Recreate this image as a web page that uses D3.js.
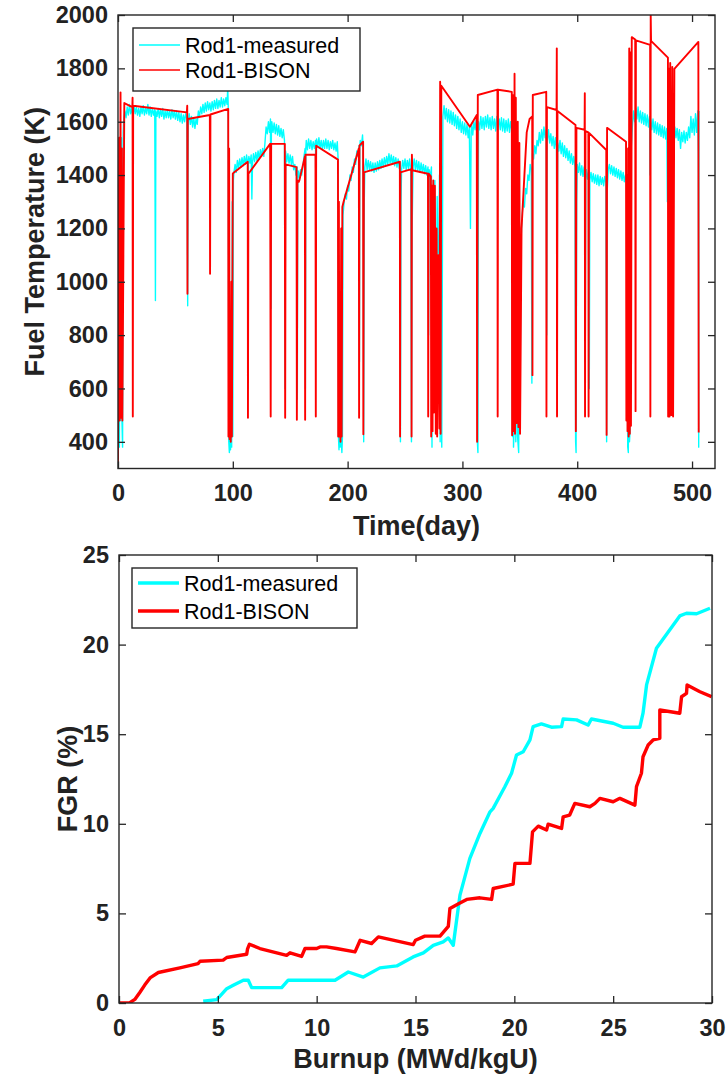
<!DOCTYPE html>
<html>
<head>
<meta charset="utf-8">
<script src="https://cdn.jsdelivr.net/npm/d3@7"></script>
<style>
  html, body { margin: 0; padding: 0; background: #fff; }
  svg { display: block; }
</style>
</head>
<body>
<svg id="chart" width="728" height="1075"></svg>
<script>
// ---------------- DATA ----------------
// Top panel: fuel temperature (K) vs time (day)
const tempSeriesNames = ["Rod1-measured", "Rod1-BISON"];
const tempXTicks = [0, 100, 200, 300, 400, 500];
const tempYTicks = [400, 600, 800, 1000, 1200, 1400, 1600, 1800, 2000];

const rod1MeasuredTemp = [
[0,750],[0.4,480],[0.8,600],[1.2,380],[1.6,1000],[2,480],[2.5,1400],[3,1540],[3.5,470],[4,380],[4.5,1560],[5,1610],[6,1640],
[7,1615],[8,1655],[9,1625],[10,1665],[11,1630],[12,1650],[13,1620],[14,1660],[15,1630],[16,1655],[17,1625],[18,1650],[19,1620],[20,1655],[21,1630],[22,1660],[23,1625],[24,1650],[25,1630],[26,1665],[27,1625],[28,1655],[29,1620],[30,1650],[31,1625],[32,1645],[32.6,930],[33,1640],[34,1620],[35,1650],[36,1615],[37,1645],[38,1620],[39,1650],[40,1610],[41,1640],[42,1615],[43,1645],[44,1615],[45,1640],[46,1610],[47,1645],[48,1615],[49,1640],[50,1610],[51,1640],[52,1605],[53,1635],[54,1600],[55,1630],[56,1595],[57,1625],[58,1600],[59,1630],[60,1610],[60.7,910],[61.2,1600],[62,1630],[63,1590],[64,1620],[65,1580],[66,1615],[67,1575],[68,1610],[69,1590],[70,1640],[71,1620],[72,1655],[73,1630],[74,1665],[75,1635],[76,1670],[77,1640],[78,1675],[79,1645],[80,1670],[81,1640],[82,1675],[83,1645],[84,1680],[85,1650],[86,1685],[87,1650],[88,1680],[89,1655],[90,1690],[91,1655],[92,1685],[93,1660],[94,1690],[95,1665],[95.6,1730],[96,1660],
[96.5,400],[97,360],[97.5,430],[98,370],[98.5,450],[99,380],[99.5,1300],[100,420],[100.5,1380],[101,1410],
[102,1440],[103,1410],[104,1455],[105,1425],[106,1460],[107,1430],[108,1465],[109,1435],[110,1470],[111,1440],[112,1475],[113,1440],[113.3,600],[113.6,1450],[114,1470],[115,1445],[116,1475],[116.6,1310],[117.2,1450],[118,1480],[119,1450],[120,1485],[121,1455],[122,1490],[123,1460],[124,1495],[125,1470],[126,1500],[127,1470],[128,1520],[129,1580],[130,1555],[131,1600],[132,1560],[132.8,1610],[133.2,900],[133.6,1570],[134,1600],[135,1560],[136,1595],[137,1555],[138,1590],[139,1550],[140,1585],[141,1545],[142,1575],[143,1540],[144,1570],[145,1530],[145.5,600],[146,1490],[147,1450],[148,1480],[149,1445],[150,1475],[151,1440],[152,1470],[153,1420],[154,1440],[155,1400],[156,1430],[156.2,560],[156.6,1380],[157,1415],[158,1390],[159,1420],[160,1400],[161,1430],[162,1470],[163,1500],[163.2,600],[163.6,1500],[164,1530],[165,1495],[166,1535],[167,1500],[168,1530],[169,1495],[170,1525],[171,1500],[172,1530],[172.4,1300],[172.8,1500],[173,1535],[174,1505],[175,1540],[176,1500],[177,1530],[178,1495],[179,1530],[180,1500],[181,1535],[182,1500],[183,1530],[184,1495],[185,1525],[186,1500],[187,1530],[188,1495],[189,1520],[190,1490],[191,1525],[191.6,1470],
[192,420],[192.5,370],[193,600],[193.5,380],[194,450],[195,360],[195.5,420],[196,1250],[197,1300],[198,1330],[199,1310],[200,1360],[201,1340],[202,1400],[203,1380],[204,1430],[205,1410],[206,1460],[207,1440],[208,1490],[209,1470],[210,1510],[210.3,700],[210.6,1500],[211,1530],[212,1510],[213,1550],[213.5,1500],[214,400],[214.5,1300],[215,1430],[216,1460],[217,1420],[218,1455],[219,1420],[220,1450],[221,1415],[222,1445],[223,1410],[224,1445],[225,1415],[226,1450],[227,1420],[228,1455],[229,1425],[230,1460],[231,1430],[232,1465],[233,1435],[234,1470],[235,1440],[236,1480],[237,1445],[238,1475],[239,1440],[240,1470],[241,1435],[242,1465],[243,1430],[244,1460],[245,1425],[245.6,1450],[246,400],[246.5,1300],[247,1420],[248,1455],[249,1425],[250,1460],[251,1420],[252,1455],[253,1425],[254,1460],[255,1420],[255.6,400],[256.2,1200],[257,1430],[258,1460],[259,1420],[260,1455],[261,1415],[262,1450],[263,1410],[264,1445],[265,1410],[266,1440],[267,1405],[268,1435],[269,1400],[270,1430],
[270.5,800],[271,1420],[272,1390],[273,1430],[273.5,380],[274,1360],[275,1000],[276,1380],[277,560],[278,1320],[279,880],[280,1400],[280.6,400],[281,1450],[282,380],[283,1620],[284,1660],[285,1610],[286,1650],[287,1600],[288,1645],[289,1595],[290,1640],[291,1590],[292,1635],[293,1585],[294,1625],[295,1575],[296,1620],[297,1570],[298,1610],[299,1560],[300,1600],[301,1555],[302,1595],[303,1550],[304,1590],[305,1540],[306,1580],[307,1200],[307.6,1560],[308,1590],[309,1550],[310,1600],[311,1570],[312,1610],[312.5,1580],[313,400],[313.5,360],[314,1600],[315,1570],[316,1620],[317,1575],[318,1615],[319,1570],[320,1620],[321,1580],[322,1625],[323,1575],[324,1615],[325,1570],[326,1620],[327,1575],[328,1610],[329,1565],[330,1620],[331,1580],[332,1610],[333,1570],[334,1615],[335,1565],[336,1610],[337,1560],[338,1605],[339,1565],[340,1610],[341,1560],[342,1600],[343,1570],
[343.5,420],[344,1550],[344.5,380],[345,450],[346,1500],[346.5,400],[347,1100],[348,420],[349,360],[349.5,800],[350,450],[351,1150],[352,1250],[353,1300],[354,1280],[355,1350],[356,1330],[357,1400],[358,1380],[359,1440],[360,1420],[360.5,620],[361,1480],[362,1460],[363,1510],[364,1480],[365,1530],[366,1510],[367,1560],[368,1520],[369,1570],[370,1530],[371,1580],[372,1540],[373,1570],[373.4,800],[373.8,1540],[374,1530],[375,1570],[376,1520],[377,1555],[378,1510],[379,1545],[380,1500],[381,1540],[382,1495],[382.5,800],[383,1520],[384,1490],[385,1530],[386,1480],[387,1520],[388,1470],[389,1510],[390,1465],[391,1500],[392,1455],[393,1490],[394,1445],[395,1480],[396,1440],[397,1470],[398,1430],[398.6,400],[399,360],[399.5,1300],[400,1440],[401,1410],[402,1445],[403,1400],[404,1435],[405,1395],[406,1430],[406.6,1390],[407,700],[407.5,1400],[408,1420],[409,1385],[410,1415],[410.5,600],[411,1380],[412,1410],[413,1375],[414,1405],[415,1370],[416,1400],[417,1365],[418,1400],[419,1360],[420,1395],[421,1365],[422,1390],[423,1360],[424,1395],[425,1370],[425.6,400],[426.2,1350],[427,1420],[428,1440],[429,1405],[430,1435],[431,1400],[432,1430],[433,1395],[434,1425],[435,1390],[436,1420],[437,1385],[438,1415],[439,1380],[440,1410],[441,1375],[442,1400],[443,1370],
[443.5,800],[444,380],[444.5,360],[445,1000],[445.5,400],[446,440],[447,1500],[448,1580],[449,1640],[450,1600],[451,1650],[452,1610],[453,1655],[454,1600],[455,1640],[456,1595],[457,1635],[458,1590],[459,1630],[460,1585],[461,1625],[462,1580],[463,1620],[463.4,1400],[463.8,1600],[464,1610],[465,1570],[466,1610],[467,1560],[468,1600],[469,1555],[470,1595],[471,1550],[472,1590],[473,1545],[474,1585],[475,1540],[476,1580],[477,1535],[478,1575],[478.5,1300],[479,1560],[480,1520],[481,1560],[482,1400],[483,1570],[484,1530],[485,1580],[486,1540],[487,1575],[488,1530],[489,1570],[490,1500],[491,1560],[492,1525],[493,1565],[494,1520],[495,1560],[496,1530],[497,1580],[498,1540],[499,1620],[500,1560],[501,1610],[502,1550],[503,1630],[504,1560],[505,1640],[505.5,1480],[505.8,380],[506,1640]
];

const rod1BisonTemp = [
[0,305],[1,1540],[1.4,480],[2.2,1710],[2.6,490],[3.4,1500],[3.8,480],[5.5,1670],[12.5,1655],[12.7,1690],[12.9,495],[13.2,1660],[60,1635],[60.3,1660],[60.5,955],[60.8,1610],[80,1625],[80.2,1030],[80.5,1627],[96,1648],[96.2,420],[96.8,1500],[97.2,410],[97.8,650],[98.2,400],[98.8,1000],[99.2,420],[100,1405],[101,1410],
[113,1450],[113.2,490],[113.6,1405],[132.5,1517],[133,495],[133.4,1517],[145.3,1517],[145.6,490],[146,1440],[155.5,1430],[155.8,483],[156.3,1380],[157.5,1375],[158,1380],[162.8,1470],[163,483],[163.3,1476],[172,1476],[172.3,495],[172.6,1510],[191.6,1458],[191.8,420],[192.4,1300],[192.8,420],[193.4,700],[193.8,400],[194.4,1200],[194.8,420],[195.4,1280],[196.5,1300],[209.8,1500],[210,490],[210.3,1510],[213.5,1525],[213.7,428],[214.2,1410],
[245.5,1450],[245.7,420],[246,1410],[255.5,1422],[255.7,420],[256,1476],[256.3,1418],[270,1405],[270.2,495],[270.6,1405],[272.5,1395],[272.8,420],[273.5,1360],[274,440],[274.6,1380],[275.2,510],[276,1360],[276.8,430],[277.5,1200],[278,420],[279,1100],[280,450],[280.6,1750],[281,430],[281.6,1735],
[306.5,1581],[312.5,1625],[312.8,400],[313.4,1700],[330.5,1720],[330.7,495],[331,1720],[343,1712],[343.3,425],[343.8,1700],[344.5,440],[345.4,1780],[345.8,430],[346.5,1690],[347.2,470],[348.2,1600],[348.8,455],[349.6,1520],[350.2,430],[351.5,1200],[356,1560],[358.5,1610],[360.8,1620],[361,650],[361.3,1700],[373,1712],[373.2,495],[373.6,1655],[382,1644],[382.2,1875],[382.4,495],[382.8,1640],[398.5,1588],[398.8,440],[399.3,1577],
[406.4,1570],[406.6,1707],[406.8,495],[407.2,1565],[409.7,1560],[409.9,495],[410.3,1558],[425.3,1494],[425.6,426],[426,1577],[442.5,1525],[442.8,480],[443.3,1400],[443.8,440],[444.3,1500],[444.8,420],[445.3,1875],[445.8,430],[446.4,1860],[446.8,460],[447.5,1917],[450.5,1908],[450.8,515],[451.1,1905],[463.5,1888],[463.7,495],[464,2000],[464.3,1903],[479,1840],[479.2,495],[479.8,1800],[480.4,495],[481,1820],[482,500],[482.8,1805],[483.5,495],[484.6,1798],[505.5,1899],[505.8,435]
];

// Bottom panel: FGR (%) vs burnup (MWd/kgU)
const fgrSeriesNames = ["Rod1-measured", "Rod1-BISON"];
const fgrXTicks = [0, 5, 10, 15, 20, 25, 30];
const fgrYTicks = [0, 5, 10, 15, 20, 25];

const rod1MeasuredFgr = [
[4.26,0.1],[4.94,0.19],[5.2,0.5],[5.45,0.8],[5.78,0.99],[6.29,1.27],[6.54,1.27],[6.71,0.86],[8.23,0.86],[8.56,1.27],[10.93,1.27],[11.6,1.73],[12.36,1.45],[13.2,1.96],[14.05,2.07],[14.88,2.57],[15.4,2.8],[15.9,3.22],[16.4,3.41],[16.66,3.63],[16.91,3.22],[17.25,6.02],[17.75,8.07],[18.26,9.46],[18.77,10.67],[18.93,10.86],[19.52,12.07],[19.86,12.82],[20.11,13.84],[20.45,14.02],[20.79,14.68],[20.95,15.42],[21.37,15.57],[21.88,15.39],[22.39,15.42],[22.47,15.85],[23.15,15.8],[23.73,15.51],[23.9,15.85],[25.0,15.61],[25.5,15.39],[26.35,15.39],[26.51,16.17],[26.69,17.75],[27.19,19.8],[28.37,21.6],[28.71,21.75],[29.22,21.72],[29.9,22.03]
];

const rod1BisonFgr = [
[0,0],[0.55,0.02],[0.8,0.2],[1.06,0.6],[1.3,1.0],[1.57,1.4],[1.99,1.7],[3.08,1.96],[4.0,2.2],[4.1,2.33],[5.27,2.39],[5.45,2.54],[6.46,2.72],[6.5,3.0],[6.6,3.28],[7.13,3.04],[8.48,2.66],[8.65,2.8],[9.24,2.6],[9.41,3.04],[10.0,3.04],[10.17,3.13],[10.5,3.13],[11.0,3.04],[11.94,2.85],[12.2,3.5],[12.78,3.32],[13.12,3.69],[14.88,3.26],[15.0,3.5],[15.47,3.73],[16.24,3.73],[16.66,4.28],[16.74,5.27],[17.2,5.55],[17.59,5.78],[18.26,5.87],[18.85,5.78],[18.93,6.39],[19.94,6.63],[20.03,7.79],[20.79,7.79],[20.92,9.55],[21.21,9.87],[21.63,9.65],[21.71,9.98],[22.39,9.74],[22.47,10.39],[22.8,10.49],[23.06,11.14],[23.82,10.95],[24.08,11.14],[24.33,11.42],[25.0,11.23],[25.34,11.42],[26.1,11.04],[26.18,12.07],[26.43,12.82],[26.51,13.74],[26.77,14.4],[27.02,14.68],[27.36,14.77],[27.36,16.35],[28.37,16.17],[28.46,17.09],[28.71,17.28],[28.74,17.75],[29.39,17.37],[29.98,17.09]
];

// ---------------- DRAWING ----------------
const svg = d3.select("#chart");
svg.append("rect").attr("width", 728).attr("height", 1075).attr("fill", "#fff");

const FONT = "'Liberation Sans', Arial, Helvetica, sans-serif";
const AX = "#262626";
const CYAN = "#00ffff", RED = "#ff0000";

function panel(cfg) {
  const x = d3.scaleLinear().domain(cfg.xDomain).range([cfg.left, cfg.right]);
  const y = d3.scaleLinear().domain(cfg.yDomain).range([cfg.bottom, cfg.top]);
  const g = svg.append("g");
  const clipId = "clip" + cfg.id;
  svg.append("clipPath").attr("id", clipId).append("rect")
    .attr("x", cfg.left).attr("y", cfg.top)
    .attr("width", cfg.right - cfg.left).attr("height", cfg.bottom - cfg.top);

  const line = d3.line().x(d => x(d[0])).y(d => y(d[1]));
  const plot = g.append("g").attr("clip-path", `url(#${clipId})`);
  plot.append("path").datum(cfg.s1).attr("d", line).attr("fill", "none")
    .attr("stroke", CYAN).attr("stroke-width", cfg.w1).attr("stroke-linejoin", "round");
  plot.append("path").datum(cfg.s2).attr("d", line).attr("fill", "none")
    .attr("stroke", RED).attr("stroke-width", cfg.w2).attr("stroke-linejoin", "round");

  // axes (ticks inside, mirrored)
  const styleAxis = sel => {
    sel.select(".domain").remove();
    sel.selectAll(".tick line").attr("stroke", AX).attr("stroke-width", 1.3);
    sel.selectAll(".tick text").attr("fill", "#222").attr("font-family", FONT)
      .attr("font-weight", "bold").attr("font-size", cfg.tickFont);
  };
  g.append("g").attr("transform", `translate(0,${cfg.bottom})`)
    .call(d3.axisBottom(x).tickValues(cfg.xTicks).tickSize(-7).tickPadding(16).tickFormat(d3.format("d")))
    .call(styleAxis);
  g.append("g").attr("transform", `translate(0,${cfg.top})`)
    .call(d3.axisTop(x).tickValues(cfg.xTicks).tickSize(-7).tickFormat(""))
    .call(styleAxis);
  g.append("g").attr("transform", `translate(${cfg.left},0)`)
    .call(d3.axisLeft(y).tickValues(cfg.yTicks).tickSize(-7).tickPadding(10).tickFormat(d3.format("d")))
    .call(styleAxis);
  g.append("g").attr("transform", `translate(${cfg.right},0)`)
    .call(d3.axisRight(y).tickValues(cfg.yTicks).tickSize(-7).tickFormat(""))
    .call(styleAxis);

  g.append("rect").attr("x", cfg.left).attr("y", cfg.top)
    .attr("width", cfg.right - cfg.left).attr("height", cfg.bottom - cfg.top)
    .attr("fill", "none").attr("stroke", AX).attr("stroke-width", 1.4);

  // axis titles
  g.append("text").attr("x", (cfg.left + cfg.right) / 2).attr("y", cfg.xTitleY)
    .attr("text-anchor", "middle").attr("font-family", FONT).attr("font-weight", "bold")
    .attr("font-size", cfg.titleFont).attr("fill", "#222").text(cfg.xTitle);
  g.append("text")
    .attr("transform", `translate(${cfg.yTitleX},${(cfg.top + cfg.bottom) / 2}) rotate(-90)`)
    .attr("text-anchor", "middle").attr("font-family", FONT).attr("font-weight", "bold")
    .attr("font-size", cfg.titleFont).attr("fill", "#222").text(cfg.yTitle);

  // legend
  const L = cfg.legend;
  const lg = g.append("g");
  lg.append("rect").attr("x", L.x).attr("y", L.y).attr("width", L.w).attr("height", L.h)
    .attr("fill", "#fff").attr("stroke", AX).attr("stroke-width", 1.4);
  cfg.names.forEach((n, i) => {
    const cy = L.y + L.row0 + i * L.dy;
    lg.append("line").attr("x1", L.x + 6).attr("x2", L.x + 47).attr("y1", cy).attr("y2", cy)
      .attr("stroke", i === 0 ? CYAN : RED).attr("stroke-width", L.lw);
    lg.append("text").attr("x", L.x + 52).attr("y", cy).attr("dy", "0.36em")
      .attr("font-family", FONT).attr("font-size", L.font).attr("fill", "#000").text(n);
  });
}

panel({
  id: "T", left: 118, right: 715, top: 15, bottom: 468.5,
  xDomain: [0, 520], yDomain: [300, 2000],
  xTicks: tempXTicks, yTicks: tempYTicks,
  s1: rod1MeasuredTemp, s2: rod1BisonTemp, w1: 1.4, w2: 1.9,
  tickFont: 23.5, titleFont: 27,
  xTitle: "Time(day)", xTitleY: 535, yTitle: "Fuel Temperature (K)", yTitleX: 44,
  names: tempSeriesNames,
  legend: { x: 133, y: 28, w: 227, h: 63, row0: 17, dy: 25, lw: 1.4, font: 21.5 }
});

panel({
  id: "F", left: 119, right: 712, top: 555, bottom: 1003,
  xDomain: [0, 30], yDomain: [0, 25],
  xTicks: fgrXTicks, yTicks: fgrYTicks,
  s1: rod1MeasuredFgr, s2: rod1BisonFgr, w1: 3.4, w2: 3.4,
  tickFont: 23.5, titleFont: 27,
  xTitle: "Burnup (MWd/kgU)", xTitleY: 1068, yTitle: "FGR (%)", yTitleX: 77,
  names: fgrSeriesNames,
  legend: { x: 132, y: 568, w: 225, h: 60, row0: 15, dy: 28, lw: 3.4, font: 21.5 }
});
</script>
</body>
</html>
